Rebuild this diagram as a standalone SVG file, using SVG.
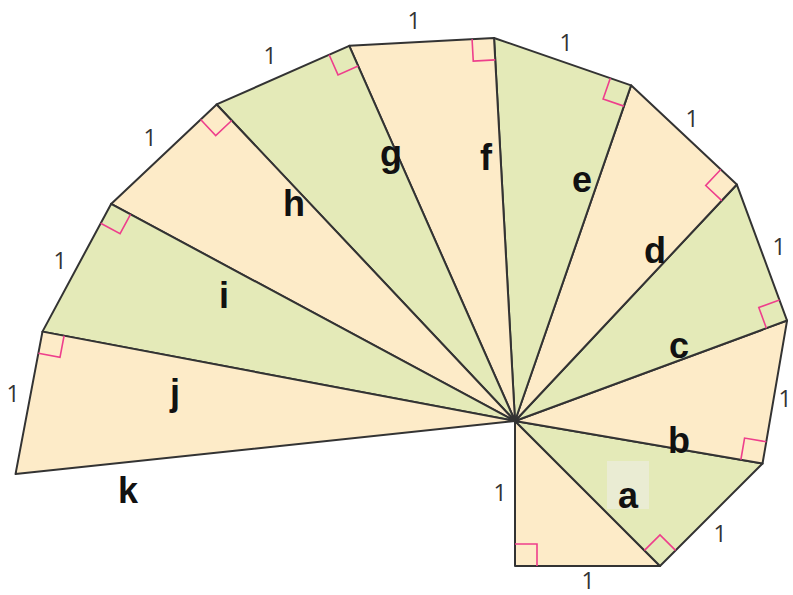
<svg xmlns="http://www.w3.org/2000/svg" width="793" height="595" viewBox="0 0 793 595">
<style>
.pe{fill:#fdebc8;stroke:#333;stroke-width:2;stroke-linejoin:round}
.gr{fill:#e4eab8;stroke:#333;stroke-width:2;stroke-linejoin:round}
.rm{fill:none;stroke:#ee3f8c;stroke-width:1.6}
.lt{font-family:"Liberation Sans",Arial,sans-serif;font-weight:bold;font-size:36px;fill:#111;text-anchor:middle}
.one{font-family:"Open Sans","Liberation Sans",sans-serif;font-size:23px;fill:#333;text-anchor:middle}
</style>
<rect width="793" height="595" fill="#fff"/>
<g id="tri-a"><polygon class="pe" points="515,421 515,566 660,566"/><path class="rm" d="M515,544 L537,544 L537,566"/></g>
<g id="tri-b"><polygon class="gr" points="515,421 660,566 762.53,463.47"/><path class="rm" d="M644.44,550.44 L660,534.88 L675.56,550.44"/></g>
<g id="tri-c"><polygon class="pe" points="515,421 762.53,463.47 787.05,320.56"/><path class="rm" d="M740.85,459.75 L744.57,438.07 L766.25,441.79"/></g>
<g id="tri-d"><polygon class="gr" points="515,421 787.05,320.56 736.83,184.53"/><path class="rm" d="M766.41,328.18 L758.79,307.54 L779.43,299.92"/></g>
<g id="tri-e"><polygon class="pe" points="515,421 736.83,184.53 631.08,85.33"/><path class="rm" d="M721.78,200.58 L705.73,185.53 L720.78,169.48"/></g>
<g id="tri-f"><polygon class="gr" points="515,421 631.08,85.33 494.04,37.94"/><path class="rm" d="M623.89,106.12 L603.10,98.93 L610.29,78.14"/></g>
<g id="tri-g"><polygon class="pe" points="515,421 494.04,37.94 349.25,45.86"/><path class="rm" d="M495.24,59.91 L473.27,61.11 L472.07,39.14"/></g>
<g id="tri-h"><polygon class="gr" points="515,421 349.25,45.86 216.62,104.46"/><path class="rm" d="M358.14,65.98 L338.02,74.87 L329.13,54.75"/></g>
<g id="tri-i"><polygon class="pe" points="515,421 216.62,104.46 111.11,203.92"/><path class="rm" d="M231.71,120.47 L215.70,135.56 L200.61,119.55"/></g>
<g id="tri-j"><polygon class="gr" points="515,421 111.11,203.92 42.46,331.64"/><path class="rm" d="M130.49,214.34 L120.07,233.72 L100.69,223.30"/></g>
<g id="tri-k"><polygon class="pe" points="515,421 42.46,331.64 15.52,474.11"/><path class="rm" d="M64.08,335.73 L59.99,357.35 L38.37,353.26"/></g>
<rect x="607" y="461" width="42" height="48" fill="#eaecd3"/>
<g id="labels">
<text class="lt" x="628" y="508">a</text>
<text class="lt" x="679" y="453">b</text>
<text class="lt" x="679" y="358">c</text>
<text class="lt" x="655" y="263">d</text>
<text class="lt" x="582" y="192">e</text>
<text class="lt" x="486" y="170">f</text>
<text class="lt" x="391" y="166">g</text>
<text class="lt" x="294" y="216">h</text>
<text class="lt" x="224" y="308">i</text>
<text class="lt" x="175" y="405">j</text>
<text class="lt" x="128" y="503">k</text>
</g>
<g id="ones">
<text class="one" x="500" y="501">1</text>
<text class="one" x="588" y="589">1</text>
<text class="one" x="720" y="542">1</text>
<text class="one" x="785" y="407">1</text>
<text class="one" x="779" y="255">1</text>
<text class="one" x="692" y="127">1</text>
<text class="one" x="566" y="51">1</text>
<text class="one" x="414" y="29">1</text>
<text class="one" x="270" y="64">1</text>
<text class="one" x="150" y="146">1</text>
<text class="one" x="60" y="269">1</text>
<text class="one" x="13" y="402">1</text>
</g>
</svg>
